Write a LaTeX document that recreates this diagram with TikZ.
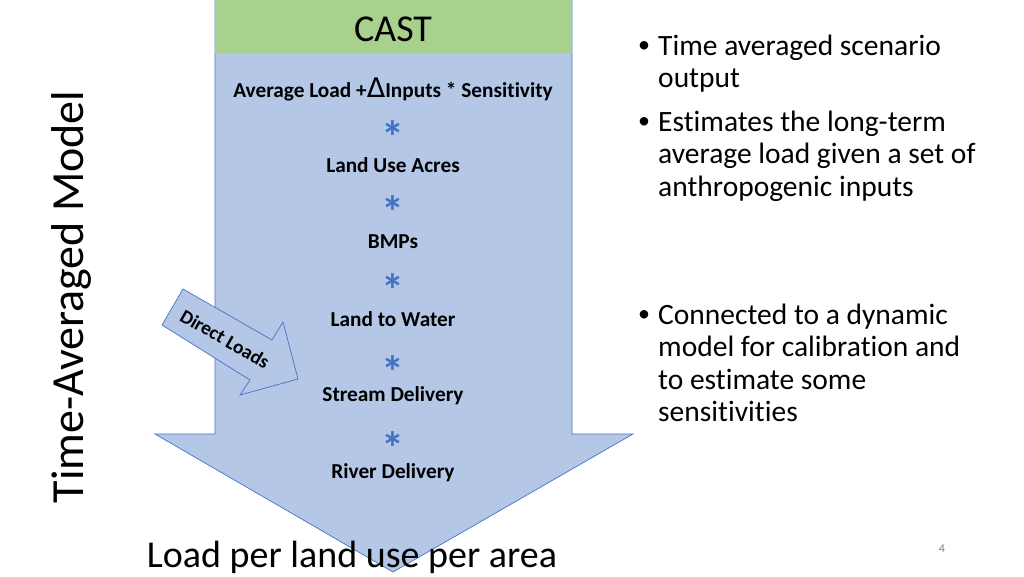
\documentclass[tikz,border=0pt]{standalone}
\usepackage{fontspec}
\setmainfont[Ligatures=NoCommon]{Carlito}
\newfontfamily\symfont{DejaVu Sans}
\usetikzlibrary{positioning}

\definecolor{flowfill}{HTML}{B4C7E7}
\definecolor{flowedge}{HTML}{4472C4}
\definecolor{castgreen}{HTML}{A9D18E}

\begin{document}
\begin{tikzpicture}[x=1pt,y=-1pt, every node/.style={align=center, inner sep=0pt}]
  \useasboundingbox (0,0) rectangle (1024,576);
  % big flow arrow
  \draw[flowedge, fill=flowfill, line width=0.7pt] (215,0) -- (572,0) -- (572,434) -- (633,434) -- (393,572) -- (155,434) -- (215,434) -- cycle;
  \fill[castgreen] (215,0) rectangle (572,54);
  \node (cast) [font=\fontsize{38}{42}\selectfont] at (393,29) {CAST};
  % factors
  \node (avg) [font=\fontsize{21.3}{25}\selectfont\bfseries] at (393,89) {Average Load +{\symfont\mdseries\fontsize{27}{27}\selectfont Δ}Inputs * Sensitivity};
  \node (acres) [font=\fontsize{21.3}{25}\selectfont\bfseries] at (393,165) {Land Use Acres};
  \node (bmps) [font=\fontsize{21.3}{25}\selectfont\bfseries] at (393,242) {BMPs};
  \node (l2w) [font=\fontsize{21.3}{25}\selectfont\bfseries] at (393,319) {Land to Water};
  \node (stream) [font=\fontsize{21.3}{25}\selectfont\bfseries] at (393,396) {Stream Delivery};
  \node (river) [font=\fontsize{21.3}{25}\selectfont\bfseries] at (393,473) {River Delivery};
  \foreach \y/\n in {129/a, 204/b, 282/c, 364/d, 440/e}
    \node (star\n) [text=flowedge, font=\fontsize{46}{46}\selectfont\bfseries] at (393,\y+8) {*};
  % direct loads arrow
  \draw[flowedge, fill=flowfill, line width=0.7pt] (183,289) -- (272,340) -- (283,322) -- (298,379) -- (240,395) -- (250,380) -- (162,325) -- cycle;
  \node (direct) [rotate=-30, font=\fontsize{19.5}{22}\selectfont\bfseries] at (225,339) {Direct Loads};
  % side titles
  \node (model) [rotate=90, font=\fontsize{46}{50}\selectfont] at (71,297) {Time-Averaged Model};
  \node (out) [font=\fontsize{38}{42}\selectfont] at (352,557) {Load per land use per area};
  % bullets
  \node (b1) [font=\fontsize{24}{32}\selectfont] at (644,47) {•};
  \node (t1) [anchor=north west, align=left, font=\fontsize{29.5}{32.3}\selectfont] at (658,35) {Time averaged scenario\\output};
  \node (b2) [font=\fontsize{24}{32}\selectfont] at (644,123) {•};
  \node (t2) [anchor=north west, align=left, font=\fontsize{29.5}{32.3}\selectfont] at (658,111) {Estimates the long-term\\average load given a set of\\anthropogenic inputs};
  \node (b3) [font=\fontsize{24}{32}\selectfont] at (644,316) {•};
  \node (t3) [anchor=north west, align=left, font=\fontsize{29.5}{32.3}\selectfont] at (658,304) {Connected to a dynamic\\model for calibration and\\to estimate some\\sensitivities};
  \node (page) [text=gray, font=\fontsize{12}{14}\selectfont] at (942,549) {4};
\end{tikzpicture}
\end{document}
